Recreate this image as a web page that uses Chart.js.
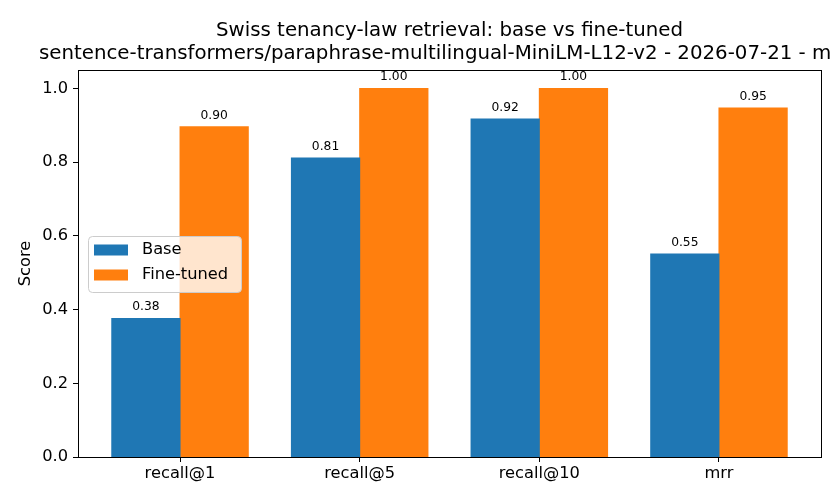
<!DOCTYPE html>
<html>
<head>
<meta charset="utf-8">
<script src="https://cdn.jsdelivr.net/npm/chart.js@4.4.1/dist/chart.umd.min.js"></script>
<style>
    html, body { margin: 0; padding: 0; background: #fff; overflow: hidden; }
    #chart { display: block; }
</style>
</head>
<body>
<canvas id="chart" width="840" height="504"></canvas>
<script>
// Datos del gráfico
const categorias = ['recall@1', 'recall@5', 'recall@10', 'mrr'];
const valoresBase = [0.376, 0.811, 0.917, 0.551];
const valoresFinetuned = [0.896, 1.0, 1.0, 0.947];
const ticksY = [0.0, 0.2, 0.4, 0.6, 0.8, 1.0];
const titulo1 = 'Swiss tenancy-law retrieval: base vs fine-tuned';
const titulo2 = 'sentence-transformers/paraphrase-multilingual-MiniLM-L12-v2 - 2026-07-21 - m';
const etiquetaY = 'Score';

const AZUL = '#1f77b4';
const NARANJA = '#ff7f0e';
const FUENTE = '"DejaVu Sans", sans-serif';

// Marco, títulos, etiquetas de valor y leyenda
const extras = {
    id: 'extras',
    afterDatasetsDraw(chart) {
        const ctx = chart.ctx;

        // Etiquetas encima de cada barra
        ctx.save();
        ctx.fillStyle = '#000';
        ctx.font = '12.3px ' + FUENTE;
        ctx.textAlign = 'center';
        ctx.textBaseline = 'bottom';
        chart.data.datasets.forEach((ds, i) => {
            chart.getDatasetMeta(i).data.forEach((bar, j) => {
                ctx.fillText(ds.data[j].y.toFixed(2), bar.x, bar.y - 5);
            });
        });
        ctx.restore();
    },
    afterDraw(chart) {
        const ctx = chart.ctx;
        const area = chart.chartArea;
        const centro = (area.left + area.right) / 2;

        // Marco completo
        ctx.save();
        ctx.strokeStyle = '#000';
        ctx.lineWidth = 1;
        ctx.strokeRect(Math.round(area.left) + 0.5, Math.round(area.top) + 0.5,
            Math.round(area.right - area.left), Math.round(area.bottom - area.top));

        // Títulos
        ctx.fillStyle = '#000';
        ctx.font = '19.8px ' + FUENTE;
        ctx.textBaseline = 'middle';
        ctx.textAlign = 'center';
        ctx.fillText(titulo1, centro, 31);
        ctx.textAlign = 'left';
        ctx.fillText(titulo2, 39, 54);

        // Etiqueta del eje Y
        ctx.save();
        ctx.translate(26, (area.top + area.bottom) / 2);
        ctx.rotate(-Math.PI / 2);
        ctx.textAlign = 'center';
        ctx.font = '16.25px ' + FUENTE;
        ctx.fillText(etiquetaY, 0, 0);
        ctx.restore();

        // Leyenda
        const lx = 88, ly = 236, lw = 153, lh = 56;
        ctx.beginPath();
        ctx.roundRect(lx + 0.5, ly + 0.5, lw, lh, 4);
        ctx.fillStyle = 'rgba(255,255,255,0.8)';
        ctx.fill();
        ctx.strokeStyle = '#cccccc';
        ctx.stroke();
        ctx.font = '16.25px ' + FUENTE;
        ctx.textAlign = 'left';
        chart.data.datasets.forEach((ds, i) => {
            const cy = ly + 14 + i * 25;
            ctx.fillStyle = ds.backgroundColor;
            ctx.fillRect(lx + 6, cy - 5.5, 34, 11);
            ctx.fillStyle = '#000';
            ctx.fillText(ds.label, lx + 54, cy);
        });
        ctx.restore();
    }
};

const ctx = document.getElementById('chart').getContext('2d');
const grafico = new Chart(ctx, {
    type: 'bar',
    data: {
        datasets: [
            {
                label: 'Base',
                data: valoresBase.map((v, i) => ({ x: i, y: v })),
                backgroundColor: AZUL
            },
            {
                label: 'Fine-tuned',
                data: valoresFinetuned.map((v, i) => ({ x: i, y: v })),
                backgroundColor: NARANJA
            }
        ]
    },
    options: {
        responsive: false,
        animation: false,
        devicePixelRatio: 1,
        layout: { padding: { top: 70, right: 19, left: 0, bottom: 0 } },
        datasets: { bar: { barPercentage: 1.0, categoryPercentage: 0.76, inflateAmount: 0.5 } },
        plugins: {
            legend: { display: false },
            title: { display: false },
            tooltip: { enabled: false }
        },
        scales: {
            x: {
                type: 'linear',
                min: -0.568,
                max: 3.568,
                offset: false,
                afterBuildTicks: s => { s.ticks = categorias.map((c, i) => ({ value: i })); },
                afterFit: s => { s.height = 47; },
                ticks: {
                    color: '#000',
                    font: { family: FUENTE, size: 16.25 },
                    padding: 2,
                    maxRotation: 0,
                    autoSkip: false,
                    callback: v => categorias[v]
                },
                grid: { offset: false, drawOnChartArea: false, drawTicks: true, tickLength: 5, color: '#000' },
                border: { display: true, color: '#000' }
            },
            y: {
                min: 0,
                max: 1.05,
                afterBuildTicks: s => { s.ticks = ticksY.map(v => ({ value: v })); },
                afterFit: s => { s.width = 78; },
                ticks: {
                    color: '#000',
                    font: { family: FUENTE, size: 16.25 },
                    padding: 5,
                    callback: v => v.toFixed(1)
                },
                grid: { drawOnChartArea: false, drawTicks: true, tickLength: 5, color: '#000' },
                border: { display: true, color: '#000' }
            }
        }
    },
    plugins: [extras]
});
</script>
</body>
</html>
